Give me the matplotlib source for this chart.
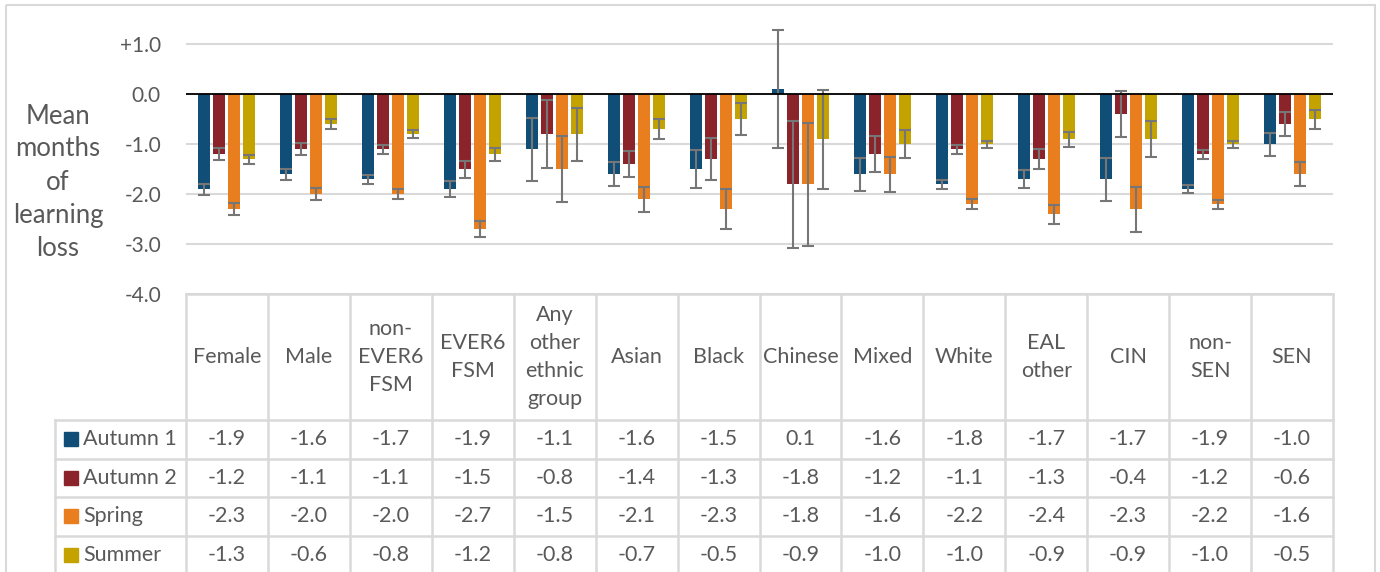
import numpy as np
import matplotlib
matplotlib.use('Agg')
import matplotlib.pyplot as plt
from matplotlib.patches import Rectangle
from matplotlib.ticker import FuncFormatter

plt.rcParams['font.family'] = ['Lato', 'DejaVu Sans']

categories = ["Female", "Male", "non-\nEVER6\nFSM", "EVER6\nFSM", "Any\nother\nethnic\ngroup",
              "Asian", "Black", "Chinese", "Mixed", "White", "EAL\nother", "CIN", "non-\nSEN", "SEN"]
series = ["Autumn 1", "Autumn 2", "Spring", "Summer"]

autumn1 = [-1.9, -1.6, -1.7, -1.9, -1.1, -1.6, -1.5, 0.1, -1.6, -1.8, -1.7, -1.7, -1.9, -1.0]
autumn2 = [-1.2, -1.1, -1.1, -1.5, -0.8, -1.4, -1.3, -1.8, -1.2, -1.1, -1.3, -0.4, -1.2, -0.6]
spring = [-2.3, -2.0, -2.0, -2.7, -1.5, -2.1, -2.3, -1.8, -1.6, -2.2, -2.4, -2.3, -2.2, -1.6]
summer = [-1.3, -0.6, -0.8, -1.2, -0.8, -0.7, -0.5, -0.9, -1.0, -1.0, -0.9, -0.9, -1.0, -0.5]

# error bar half-widths
err_a1 = [0.11, 0.11, 0.09, 0.16, 0.63, 0.24, 0.38, 1.18, 0.33, 0.09, 0.18, 0.43, 0.08, 0.23]
err_a2 = [0.12, 0.12, 0.09, 0.17, 0.68, 0.26, 0.42, 1.27, 0.36, 0.09, 0.20, 0.46, 0.09, 0.24]
err_sp = [0.12, 0.12, 0.10, 0.16, 0.66, 0.25, 0.40, 1.23, 0.35, 0.10, 0.19, 0.45, 0.09, 0.24]
err_su = [0.09, 0.10, 0.08, 0.13, 0.53, 0.20, 0.32, 0.99, 0.28, 0.07, 0.15, 0.36, 0.07, 0.19]

values = [autumn1, autumn2, spring, summer]
errors = [err_a1, err_a2, err_sp, err_su]
colors = ['#114E77', '#8B232A', '#E87E1E', '#C4A200']

grey = '#595959'
line_c = '#D9D9D9'
tfs = 15.5  # table font size

W, H = 1380, 572
fig = plt.figure(figsize=(W / 100, H / 100), dpi=100)

# plot area in pixels
left, right, bottom = 186, 1333, 294
ymin, ymax = -4.0, 1.4
ppu = 50
top = bottom - (ymax - ymin) * ppu
ax = fig.add_axes([left / W, (H - bottom) / H, (right - left) / W, (bottom - top) / H])

x = np.arange(len(categories))
step = 0.183
width = 0.146
for k in range(4):
    pos = x + (k - 1.5) * step
    ax.bar(pos, values[k], width, color=colors[k], zorder=3)
    ax.errorbar(pos, values[k], yerr=errors[k], fmt='none', ecolor='#767676',
                elinewidth=1.5, capsize=4.5, capthick=1.5, zorder=4)

ax.set_xlim(-0.5, len(categories) - 0.5)
ax.set_ylim(ymin, ymax)
ax.set_yticks(np.arange(-4, 1.5, 1.0))
ax.yaxis.set_major_formatter(FuncFormatter(lambda v, p: f"+{v:.1f}" if v > 0 else f"{v:.1f}"))
ax.tick_params(axis='y', length=0, pad=18, labelsize=15, labelcolor=grey)
ax.set_xticks([])
ax.grid(axis='y', color=line_c, lw=1.5, zorder=0)
ax.axhline(0, color='black', lw=1.3, zorder=5)
for s in ax.spines.values():
    s.set_visible(False)
ax.set_facecolor('none')

# overlay in pixel coordinates for the frame and data table
tax = fig.add_axes([0, 0, 1, 1], zorder=-1)
tax.set_xlim(0, W)
tax.set_ylim(H, 0)
tax.axis('off')

tax.add_patch(Rectangle((6, 5), 1369, 620, fill=False, ec=line_c, lw=1.5))

tax.text(58, 182, "Mean\nmonths\nof\nlearning\nloss", ha='center', va='center',
         fontsize=18.5, color=grey, linespacing=1.4)

cell_w = (right - left) / len(categories)
edges = [left + i * cell_w for i in range(len(categories) + 1)]
row_y = [420, 458.5, 497, 535.5, 574]
for e in edges:
    tax.plot([e, e], [bottom, H + 5], color=line_c, lw=1.8)
tax.plot([left, right], [bottom, bottom], color=line_c, lw=1.8)
for ry in row_y[:-1]:
    tax.plot([55, right], [ry, ry], color=line_c, lw=1.8)
tax.plot([55, 55], [row_y[0], H + 5], color=line_c, lw=1.8)

for i, name in enumerate(categories):
    cx = (edges[i] + edges[i + 1]) / 2
    tax.text(cx, (bottom + row_y[0]) / 2, name, ha='center', va='center',
             fontsize=tfs, color=grey, linespacing=1.5)

for k, sname in enumerate(series):
    cy = (row_y[k] + row_y[k + 1]) / 2
    tax.add_patch(Rectangle((64, cy - 7), 14, 14, color=colors[k]))
    tax.text(83, cy, sname, ha='left', va='center', fontsize=tfs, color=grey)
    for i, v in enumerate(values[k]):
        cx = (edges[i] + edges[i + 1]) / 2
        tax.text(cx, cy, f"{v:.1f}", ha='center', va='center', fontsize=tfs, color=grey)

fig.savefig('out.png', dpi=100)
